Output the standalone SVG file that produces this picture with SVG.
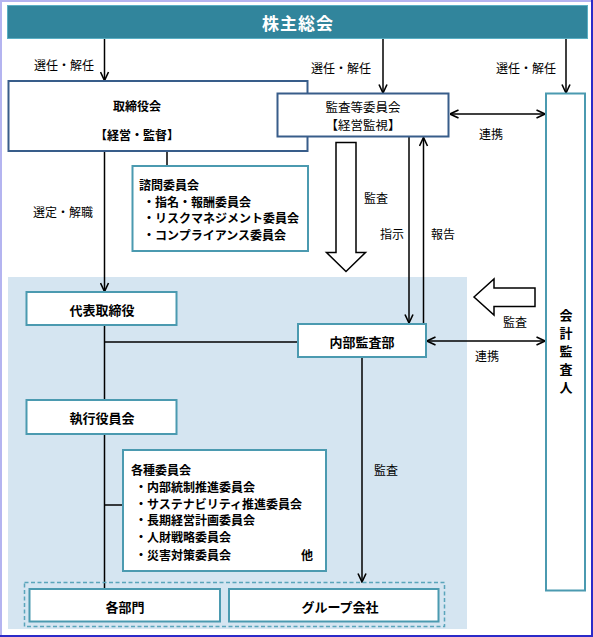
<svg xmlns="http://www.w3.org/2000/svg" width="593" height="637" viewBox="0 0 593 637">
<defs>
<marker id="ah" viewBox="0 0 10 10" refX="9.5" refY="5" markerWidth="10" markerHeight="10" markerUnits="userSpaceOnUse" orient="auto-start-reverse">
<path d="M1,1 L9.5,5 L1,9" fill="none" stroke="#000" stroke-width="1.6"/>
</marker>
</defs>
<style>
text{font-family:"Noto Sans CJK JP","Noto Sans",sans-serif;fill:#000;dominant-baseline:central}
.c{text-anchor:middle}
.b{font-weight:bold}
.lbl{font-size:12px}
.nd{font-size:13px;font-weight:bold;text-anchor:middle}
.blue{fill:#fff;stroke:#385D8A;stroke-width:2}
.teal{fill:#fff;stroke:#4B9AB0;stroke-width:2}
.ln{stroke:#000;stroke-width:1.5;fill:none}
.hol{fill:#fff;stroke:#000;stroke-width:1.5;stroke-linejoin:miter}
</style>
<rect x="0" y="0" width="593" height="637" fill="#fff"/>
<rect x="0" y="0" width="2" height="637" fill="#B4B4F0"/>
<rect x="0" y="0" width="593" height="2" fill="#B4B4F0"/>
<rect x="591" y="0" width="2" height="637" fill="#2B2BC8"/>
<rect x="0" y="635" width="593" height="2" fill="#2B2BC8"/>
<rect id="area" x="8" y="277" width="459" height="352" fill="#D5E5F1"/>

<g id="connectors">
<line class="ln" x1="104.5" y1="38.5" x2="104.5" y2="80.5" marker-end="url(#ah)"/>
<line class="ln" x1="383" y1="38.5" x2="383" y2="93" marker-end="url(#ah)"/>
<line class="ln" x1="566" y1="38.5" x2="566" y2="93" marker-end="url(#ah)"/>
<line class="ln" x1="450" y1="114" x2="545" y2="114" marker-start="url(#ah)" marker-end="url(#ah)"/>
<line class="ln" x1="167" y1="151" x2="167" y2="166"/>
<line class="ln" x1="104.5" y1="151" x2="104.5" y2="291.5" marker-end="url(#ah)"/>
<line class="ln" x1="409" y1="136.5" x2="409" y2="323" marker-end="url(#ah)"/>
<line class="ln" x1="423.5" y1="323.5" x2="423.5" y2="137.5" marker-end="url(#ah)"/>
<line class="ln" x1="104.5" y1="325" x2="104.5" y2="400"/>
<line class="ln" x1="104.5" y1="342" x2="298" y2="342"/>
<line class="ln" x1="427" y1="341" x2="545" y2="341" marker-start="url(#ah)" marker-end="url(#ah)"/>
<line class="ln" x1="104.5" y1="434" x2="104.5" y2="589"/>
<line class="ln" x1="104.5" y1="505" x2="123" y2="505"/>
<line class="ln" x1="362" y1="357" x2="362" y2="582" marker-end="url(#ah)"/>
<polygon class="hol" points="201,114 221,95 221,104 272,104 272,123 221,123 221,133"/>
<polygon class="hol" points="336,142.5 356,142.5 356,252.5 365.5,252.5 346,271.5 326.5,252.5 336,252.5"/>
<polygon class="hol" points="474,297 494,279 494,288 535,288 535,306.5 494,306.5 494,315"/>
<text class="lbl c" x="64" y="64">選任・解任</text>
<text class="lbl c" x="341" y="67">選任・解任</text>
<text class="lbl c" x="526" y="67">選任・解任</text>
<text class="lbl c" x="253" y="136">監査等</text>
<text class="lbl c" x="491" y="133">連携</text>
<text class="lbl c" x="63" y="211">選定・解職</text>
<text class="lbl c" x="376" y="197">監査</text>
<text class="lbl c" x="392" y="233">指示</text>
<text class="lbl c" x="443" y="233">報告</text>
<text class="lbl c" x="515" y="321">監査</text>
<text class="lbl c" x="487" y="355">連携</text>
<text class="lbl c" x="386" y="469">監査</text>
</g>

<g id="shareholders">
<rect x="7.5" y="5.5" width="580" height="33" fill="#31859C" stroke="#5AAFC4" stroke-width="1"/>
<text class="c b" x="298" y="22.5" style="font-size:17px;fill:#fff;letter-spacing:1px">株主総会</text>
</g>

<g id="board">
<rect class="blue" x="8.5" y="81" width="299" height="70"/>
<text class="c b lbl" x="137" y="105">取締役会</text>
<text class="c b lbl" x="137" y="134">【経営・監督】</text>
</g>

<g id="audit-committee">
<rect class="blue" x="277.5" y="93.5" width="171" height="43"/>
<text class="c" x="363" y="106" style="font-size:12.5px">監査等委員会</text>
<text class="c" x="363" y="124" style="font-size:12.5px">【経営監視】</text>
</g>

<g id="auditor">
<rect class="teal" x="546" y="93.5" width="39" height="497"/>
<text class="nd" x="566" y="314">会</text>
<text class="nd" x="566" y="332">計</text>
<text class="nd" x="566" y="350">監</text>
<text class="nd" x="566" y="368">査</text>
<text class="nd" x="566" y="386">人</text>
</g>

<g id="advisory">
<rect class="teal" x="132.5" y="166" width="175.5" height="85"/>
<text class="b lbl" x="139" y="184">諮問委員会</text>
<text class="b lbl" x="143" y="201">・指名・報酬委員会</text>
<text class="b lbl" x="143" y="217.5">・リスクマネジメント委員会</text>
<text class="b lbl" x="143" y="234.5">・コンプライアンス委員会</text>
</g>

<g id="president">
<rect class="teal" x="26.5" y="292" width="150" height="33"/>
<text class="nd" x="102" y="309">代表取締役</text>
</g>

<g id="internal-audit">
<rect class="teal" x="298" y="324" width="128" height="33"/>
<text class="nd" x="362" y="341">内部監査部</text>
</g>

<g id="executive">
<rect class="teal" x="26.5" y="400" width="150" height="34"/>
<text class="nd" x="102" y="417">執行役員会</text>
</g>

<g id="committees">
<rect class="teal" x="123" y="450" width="203" height="121"/>
<text class="b lbl" x="131" y="469">各種委員会</text>
<text class="b lbl" x="135" y="486">・内部統制推進委員会</text>
<text class="b lbl" x="135" y="503">・サステナビリティ推進委員会</text>
<text class="b lbl" x="135" y="519.5">・長期経営計画委員会</text>
<text class="b lbl" x="135" y="536.5">・人財戦略委員会</text>
<text class="b lbl" x="135" y="554">・災害対策委員会</text>
<text class="b lbl" x="301" y="554">他</text>
</g>

<g id="group">
<rect x="24.5" y="582.5" width="420" height="44" fill="none" stroke="#5AA5BB" stroke-width="1.5" stroke-dasharray="4,2.5"/>
</g>

<g id="departments">
<rect class="teal" x="29.5" y="589" width="190.5" height="32.5"/>
<text class="nd" x="125" y="606">各部門</text>
</g>

<g id="group-companies">
<rect class="teal" x="229" y="589" width="209.5" height="32.5"/>
<text class="nd" x="340" y="606">グループ会社</text>
</g>
</svg>
